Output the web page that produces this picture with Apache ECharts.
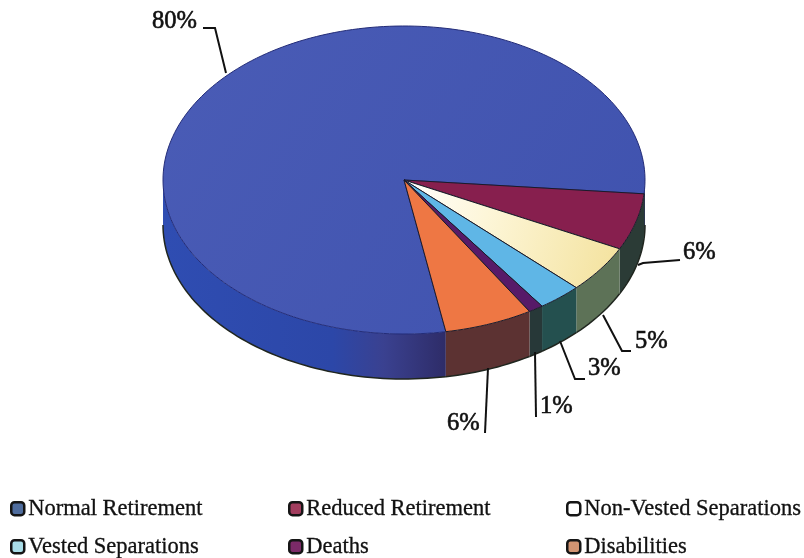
<!DOCTYPE html>
<html><head><meta charset="utf-8">
<style>html,body{margin:0;padding:0;background:#fff}#c{width:804px;height:558px}</style>
<script src="https://cdn.jsdelivr.net/npm/echarts@6/dist/echarts.min.js"></script>
</head><body><div id="c"></div>
<script>
const categories = ['Normal Retirement','Reduced Retirement','Non-Vested Separations','Vested Separations','Deaths','Disabilities'];
const shares = [80,6,5,3,1,6];
const percentLabels = ['80%','6%','5%','3%','1%','6%'];

const G = echarts.graphic.LinearGradient;
const topFill = [
  new G(0,0,1,1,[{offset:0,color:'#4a5cb6'},{offset:1,color:'#3f52ae'}]),
  '#871f4e',
  new G(0,0,1,0.6,[{offset:0,color:'#ffffff'},{offset:.4,color:'#fdf6d8'},{offset:1,color:'#f4e3a0'}]),
  '#5fb6e6','#571a68','#ee7744'];
const wallFill = [
  new G(0,0,1,0,[{offset:0,color:'#2f4db2'},{offset:.6,color:'#2c47a8'},{offset:.78,color:'#3a4190'},{offset:1,color:'#2e2c68'}]),
  '#2b3b36','#5d7257','#24504f','#273838','#5c3232'];
const swatch = ['#4f6d9e','#a23d5e','#ffffff','#a9dde8','#7c2a68','#d29472'];
const outline = ['#232c78','#1a1a2a','#1a1a2a','#1a1a2a','#1a1a2a','#1a1a2a'];
const legendPos = [[10,497],[288,497],[566,497],[10,535],[288,535],[566,535]];
// leader-line layout: polyline pixels, then text anchor
const leader = [
  {pts:[[226,73],[215,28],[203,28]],tx:152,ty:22},
  {pts:[[638,265],[643,263],[680,260]],tx:683,ty:253},
  {pts:[[603,315],[622,351],[631,351]],tx:635,ty:342},
  {pts:[[560,341],[575,379],[585,379]],tx:588,ty:369},
  {pts:[[535,352],[536,417]],tx:540,ty:407},
  {pts:[[488,368],[485,433]],tx:447,ty:424}
];
const START = 80, DEPTH = 45;
const total = shares.reduce((a,b)=>a+b,0);
let acc = START;
const spans = shares.map(v=>{const a=acc; acc+=v/total*360; return [a,acc];});

function arc(api,a,b,dy){
  const n=Math.max(2,Math.ceil((b-a)/1.5)), out=[];
  for(let i=0;i<=n;i++){
    const t=(a+(b-a)*i/n)*Math.PI/180;
    const p=api.coord([Math.cos(t),Math.sin(t)]);
    out.push([p[0],p[1]+dy]);
  }
  return out;
}
function renderer(idx){
  return function(params,api){
    const kids=[];
    const [a,b]=spans[idx];
    [[0,180],[360,540]].forEach(w=>{
      const s=Math.max(a,w[0]), e=Math.min(b,w[1]);
      if(e>s){
        const pts=arc(api,s,e,0).concat(arc(api,s,e,DEPTH).reverse());
        const fill=(idx===0&&w[0]===360)?'#27324a':wallFill[idx];
        kids.push({type:'polygon',shape:{points:pts},style:{fill:fill,stroke:null}});
        kids.push({type:'polyline',shape:{points:arc(api,s,e,DEPTH)},style:{fill:null,stroke:'#20261f',lineWidth:1.5}});
      }
    });
    const c=api.coord([0,0]);
    kids.push({type:'polygon',shape:{points:[c].concat(arc(api,a,b,0))},
      style:{fill:topFill[idx],stroke:outline[idx],lineWidth:1}});
    const L=leader[idx];
    kids.push({type:'polyline',shape:{points:L.pts},style:{fill:null,stroke:'#111',lineWidth:2}});
    kids.push({type:'text',style:{x:L.tx,y:L.ty,text:percentLabels[idx],fill:'#111',stroke:'#111',lineWidth:0.6,
      font:'24.5px "Liberation Serif"',textAlign:'left',textVerticalAlign:'middle'}});
    return {type:'group',children:kids};
  };
}
const chart=echarts.init(document.getElementById('c'),null,{renderer:'canvas'});
chart.setOption({
  animation:false,backgroundColor:'#fff',
  grid:{left:163,width:482,top:26,height:308},
  xAxis:{type:'value',min:-1,max:1,show:false},
  yAxis:{type:'value',min:-1,max:1,inverse:true,show:false},
  legend:categories.map((n,i)=>({
    data:[n],left:legendPos[i][0],top:legendPos[i][1],padding:0,itemWidth:13,itemHeight:13,
    icon:'roundRect',selectedMode:false,
    itemStyle:{color:swatch[i],borderColor:'#151515',borderWidth:2.5},
    textStyle:{fontFamily:'Liberation Serif',fontSize:22.5,color:'#111',textBorderColor:'#111',textBorderWidth:0.3,padding:[0,0,0,-1]}
  })),
  series:categories.map((n,i)=>({
    type:'custom',name:n,coordinateSystem:'cartesian2d',clip:false,silent:true,
    itemStyle:{color:swatch[i]},
    renderItem:renderer(i),
    encode:{x:0,y:0},
    data:[[shares[i]]]
  }))
});
</script></body></html>
